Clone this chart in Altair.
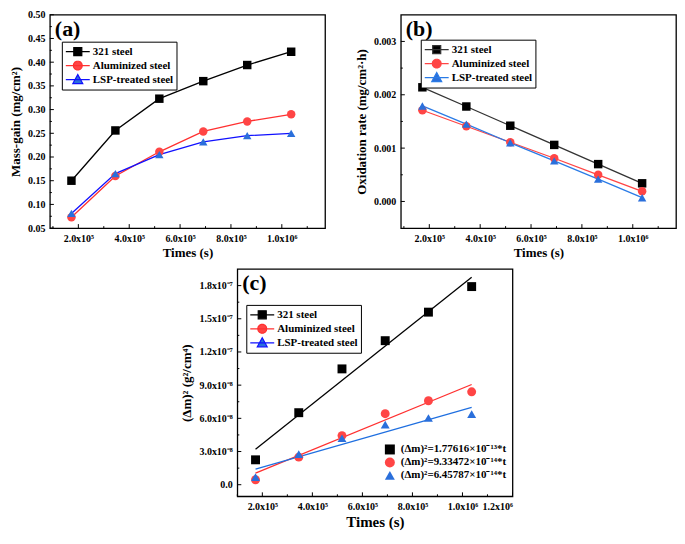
import math
import altair as alt
import pandas as pd

FONT = "Liberation Serif"

# ---- data ----
times = [172800, 345600, 518400, 691200, 864000, 1036800]
series = ["321 steel", "Aluminized steel", "LSP-treated steel"]

mass_321 = [0.150, 0.256, 0.323, 0.360, 0.394, 0.422]
mass_al = [0.073, 0.160, 0.211, 0.254, 0.275, 0.290]
mass_lsp = [0.081, 0.165, 0.205, 0.232, 0.245, 0.250]

rate_321 = [0.00214, 0.00178, 0.00142, 0.00106, 0.00070, 0.00034]
rate_al = [0.00171, 0.00141, 0.00111, 0.00081, 0.00050, 0.00019]
rate_lsp = [0.00179, 0.00145, 0.00110, 0.00076, 0.00042, 0.00007]

sq_321 = [2.25e-8, 6.51e-8, 10.47e-8, 13.02e-8, 15.60e-8, 17.91e-8]
sq_al = [0.45e-8, 2.49e-8, 4.44e-8, 6.42e-8, 7.59e-8, 8.40e-8]
sq_lsp = [0.69e-8, 2.76e-8, 4.20e-8, 5.43e-8, 6.03e-8, 6.39e-8]

fit_t = [172800, 1036800]
fit_321 = [3.21e-8, 18.75e-8]
fit_al = [1.05e-8, 9.06e-8]
fit_lsp = [1.41e-8, 6.99e-8]
fit_labels = ["(Δm)²=1.77616×10⁻¹³*t", "(Δm)²=9.33472×10⁻¹⁴*t", "(Δm)²=6.45787×10⁻¹⁴*t"]

x_ticks = [200000, 400000, 600000, 800000, 1000000]
x_minor = [100000, 300000, 500000, 700000, 900000, 1100000]
x_labels = ["2.0x10⁵", "4.0x10⁵", "6.0x10⁵", "8.0x10⁵", "1.0x10⁶"]
xc_ticks = x_ticks + [1200000]
xc_labels = x_labels + ["1.2x10⁶"]

ya_ticks = [0.05, 0.10, 0.15, 0.20, 0.25, 0.30, 0.35, 0.40, 0.45, 0.50]
ya_minor = [0.075, 0.125, 0.175, 0.225, 0.275, 0.325, 0.375, 0.425, 0.475]
yb_ticks = [0.0, 0.001, 0.002, 0.003]
yb_minor = [0.0005, 0.0015, 0.0025]
yc_ticks = [0.0, 3e-8, 6e-8, 9e-8, 1.2e-7, 1.5e-7, 1.8e-7]
yc_minor = [1.5e-8, 4.5e-8, 7.5e-8, 1.05e-7, 1.35e-7, 1.65e-7]
yc_labels = ["0.0", "3.0x10⁻⁸", "6.0x10⁻⁸", "9.0x10⁻⁸", "1.2x10⁻⁷", "1.5x10⁻⁷", "1.8x10⁻⁷"]

marker_colors = ["#000000", "#FF4545", "#2A6FDB"]
shapes = ["square", "circle", "triangle-up"]

W, H = 276, 214
HC = 228


# legend symbols: a short line with the marker on it.
# size 144 -> one path unit = 6 px; marker sits at u=1, line runs u=-1..3
def _circle_path(cx, r, n=14):
    pts = [(cx + r * math.cos(2 * math.pi * k / n), r * math.sin(2 * math.pi * k / n)) for k in range(n)]
    return "M" + "L".join("%.3f,%.3f" % p for p in pts) + "Z"


LEG_LINE = "M-1,0H3"
leg_paths = [
    LEG_LINE + "M0.33,-0.67H1.67V0.67H0.33Z",
    LEG_LINE + _circle_path(1.0, 0.75),
    LEG_LINE + "M1,-0.83L1.83,0.67L0.17,0.67Z",
]
INDEP = dict(color="independent", fill="independent", stroke="independent", shape="independent")


def long_df(xs, cols):
    rows = []
    for name, ys in zip(series, cols):
        for x, y in zip(xs, ys):
            rows.append({"x": x, "y": y, "series": name})
    return pd.DataFrame(rows)


def js_list(items):
    return "[" + ",".join("'" + s + "'" for s in items) + "]"


def legend_cfg(lx, ly, boxed=True, size=144, offset=14, rowpad=-2):
    kw = dict(title=None, orient="none", legendX=lx, legendY=ly,
              labelFont=FONT, labelFontSize=11, labelFontWeight="bold", labelColor="black",
              symbolSize=size, symbolStrokeWidth=1.2, rowPadding=rowpad, labelOffset=offset, padding=3)
    if boxed:
        kw.update(strokeColor="black", fillColor="white")
    return alt.Legend(**kw)


def series_legend_layer(df, lx, ly, line_colors):
    # legend only: no rows survive the filter, entries come from the scale domains
    leg = legend_cfg(lx, ly)
    return alt.Chart(df).transform_filter("false").mark_point(
        filled=True, size=144, strokeWidth=1.2, opacity=1
    ).encode(
        fill=alt.Fill("series:N", scale=alt.Scale(domain=series, range=marker_colors), legend=leg),
        stroke=alt.Stroke("series:N", scale=alt.Scale(domain=series, range=line_colors), legend=leg),
        shape=alt.Shape("series:N", scale=alt.Scale(domain=series, range=leg_paths), legend=leg),
    )


def point_layers(df, xs, ys, xax, yax, size):
    out = []
    for name, col, shp in zip(series, marker_colors, shapes):
        out.append(alt.Chart(df).transform_filter(alt.datum.series == name).mark_point(
            filled=True, shape=shp, color=col, size=size, opacity=1
        ).encode(x=alt.X("x:Q", scale=xs, axis=xax), y=alt.Y("y:Q", scale=ys, axis=yax)))
    return out


def x_axis(vals, labels, title_size=13):
    return alt.Axis(values=vals, tickCount=len(vals),
                    labelExpr=js_list(labels) + "[round(datum.value/200000)-1]",
                    title="Times (s)", ticks=False, domain=False, grid=False, labelOverlap=False,
                    labelPadding=5, titlePadding=3, titleFontSize=title_size)


def y_axis(vals, title, fmt=None, labels=None, step=None):
    kw = dict(values=vals, tickCount=len(vals), title=title, ticks=False, domain=False, grid=False,
              labelOverlap=False, labelPadding=5, titlePadding=5)
    if labels is not None:
        kw["labelExpr"] = js_list(labels) + "[round(datum.value/" + repr(step) + ")]"
    else:
        kw["format"] = fmt
    return alt.Axis(**kw)


def tick_layers(xs, ys, xax, yax, xmaj, xmin, ymaj, ymin, h):
    # inward ticks, as in the original figure
    out = []
    for vals, ln in ((xmaj, 4), (xmin, 2)):
        d = pd.DataFrame({"x": vals})
        out.append(alt.Chart(d).mark_rule(color="black", strokeWidth=1).encode(
            x=alt.X("x:Q", scale=xs, axis=xax), y=alt.value(h - ln), y2=alt.value(h)))
    for vals, ln in ((ymaj, 4), (ymin, 2)):
        d = pd.DataFrame({"y": vals})
        out.append(alt.Chart(d).mark_rule(color="black", strokeWidth=1).encode(
            y=alt.Y("y:Q", scale=ys, axis=yax), x=alt.value(0), x2=alt.value(ln)))
    return out


def panel_tag(txt):
    return alt.Chart(pd.DataFrame({"t": [txt]})).mark_text(
        font=FONT, fontSize=22, fontWeight="bold", align="left", baseline="top", color="black"
    ).encode(text="t:N", x=alt.value(5), y=alt.value(4))


def line_panel(df, xs, ys, xax, yax, line_colors, lx, ly, tag, yt, ym):
    lines = alt.Chart(df).mark_line(strokeWidth=1.3).encode(
        x=alt.X("x:Q", scale=xs, axis=xax),
        y=alt.Y("y:Q", scale=ys, axis=yax),
        stroke=alt.Stroke("series:N", scale=alt.Scale(domain=series, range=line_colors), legend=None),
    )
    layers = [lines] + point_layers(df, xs, ys, xax, yax, 72)
    layers += tick_layers(xs, ys, xax, yax, x_ticks, x_minor, yt, ym, H)
    layers += [panel_tag(tag), series_legend_layer(df, lx, ly, line_colors)]
    return alt.layer(*layers).resolve_scale(**INDEP).properties(width=W, height=H)


xs_ab = alt.Scale(domain=[88000, 1170000], nice=False, zero=False)

chart_a = line_panel(
    long_df(times, [mass_321, mass_al, mass_lsp]), xs_ab,
    alt.Scale(domain=[0.05, 0.5], nice=False, zero=False),
    x_axis(x_ticks, x_labels), y_axis(ya_ticks, "Mass-gain (mg/cm²)", fmt=".2f"),
    ["#000000", "#FF3030", "#1010FF"], 12, 27, "(a)", ya_ticks, ya_minor,
)

chart_b = line_panel(
    long_df(times, [rate_321, rate_al, rate_lsp]), xs_ab,
    alt.Scale(domain=[-0.0005, 0.0035], nice=False, zero=False),
    x_axis(x_ticks, x_labels), y_axis(yb_ticks, "Oxidation rate (mg/cm²·h)", fmt=".3f"),
    ["#333333", "#FF4545", "#2A7BE6"], 20, 25, "(b)", yb_ticks, yb_minor,
)

# ---- panel (c) ----
xs_c = alt.Scale(domain=[100000, 1200000], nice=False, zero=False)
ys_c = alt.Scale(domain=[-1.05e-8, 1.95e-7], nice=False, zero=False)
xax_c = x_axis(xc_ticks, xc_labels, title_size=15)
yax_c = y_axis(yc_ticks, "(Δm)² (g²/cm⁴)", labels=yc_labels, step=3e-8)
df_c = long_df(times, [sq_321, sq_al, sq_lsp])
fit_rows = []
for lab, ys in zip(fit_labels, [fit_321, fit_al, fit_lsp]):
    for x, y in zip(fit_t, ys):
        fit_rows.append({"x": x, "y": y, "eq": lab})
df_fit = pd.DataFrame(fit_rows)

fit_lines = alt.Chart(df_fit).mark_line(strokeWidth=1.3).encode(
    x=alt.X("x:Q", scale=xs_c, axis=xax_c),
    y=alt.Y("y:Q", scale=ys_c, axis=yax_c),
    stroke=alt.Stroke("eq:N", scale=alt.Scale(domain=fit_labels, range=["#000000", "#FF3030", "#1F6FE0"]),
                      legend=None),
)
eq_leg = legend_cfg(144, 172, boxed=False, size=100, offset=5, rowpad=2)
eq_legend = alt.Chart(df_fit).transform_filter("false").mark_point(filled=True, size=100, opacity=1).encode(
    color=alt.Color("eq:N", scale=alt.Scale(domain=fit_labels, range=marker_colors), legend=eq_leg),
    shape=alt.Shape("eq:N", scale=alt.Scale(domain=fit_labels, range=shapes), legend=eq_leg),
)

chart_c = alt.layer(
    fit_lines, *point_layers(df_c, xs_c, ys_c, xax_c, yax_c, 80),
    *tick_layers(xs_c, ys_c, xax_c, yax_c, xc_ticks, x_minor, yc_ticks, yc_minor, HC),
    panel_tag("(c)"),
    series_legend_layer(df_c, 9, 36, ["#000000", "#FF3030", "#1010FF"]),
    eq_legend,
).resolve_scale(**INDEP).properties(width=W, height=HC)

spacer = alt.Chart(pd.DataFrame({"a": [0]})).mark_point(opacity=0).properties(
    width=119, height=10, view=alt.ViewBackground(stroke="transparent"))

top = alt.hconcat(chart_a, chart_b, spacing=28).resolve_scale(**INDEP)
bottom = alt.hconcat(spacer, chart_c, spacing=10).resolve_scale(**INDEP)

chart = alt.vconcat(top, bottom, spacing=8).resolve_scale(**INDEP).properties(
    padding=0
).configure_view(
    stroke="black", strokeWidth=1.3
).configure_axis(
    labelFont=FONT, labelFontSize=10, labelFontWeight="bold", labelColor="black",
    titleFont=FONT, titleFontSize=13, titleFontWeight="bold", titleColor="black",
)

chart.save("out.html", embed_options={"renderer": "svg", "actions": False})
